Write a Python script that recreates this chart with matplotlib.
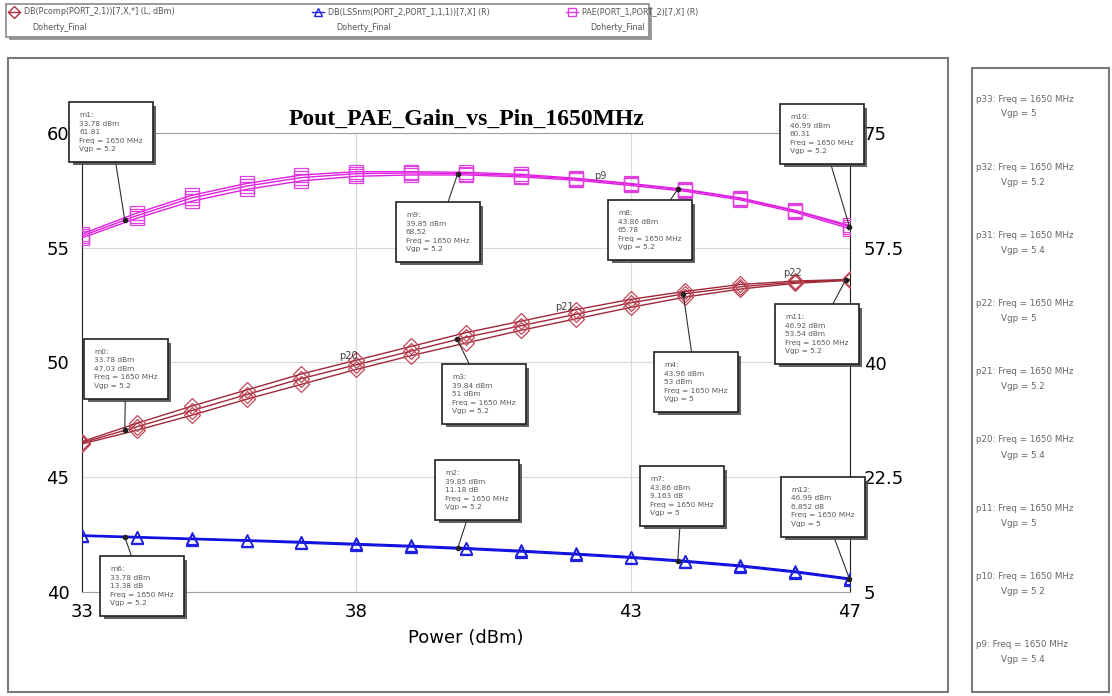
import numpy as np
import matplotlib
matplotlib.use("Agg")
import matplotlib.pyplot as plt
import matplotlib.patheffects as pe
from matplotlib.patches import Rectangle

# Pin (dBm)
pin = [33, 34, 35, 36, 37, 38, 39, 40, 41, 42, 43, 44, 45, 46, 47]

# Pout (dBm, left axis) for Vgp = 5, 5.2, 5.4
pout_5 = [46.45, 47.05, 47.7, 48.4, 49.05, 49.7, 50.3, 50.85, 51.4, 51.9, 52.4, 52.85, 53.2, 53.45, 53.58]
pout_52 = [46.5, 47.2, 47.9, 48.6, 49.3, 49.9, 50.5, 51.1, 51.6, 52.1, 52.6, 53.0, 53.3, 53.5, 53.6]
pout_54 = [46.55, 47.35, 48.1, 48.8, 49.5, 50.1, 50.7, 51.3, 51.8, 52.3, 52.75, 53.1, 53.4, 53.55, 53.62]

# PAE (%, right axis)
pae_5 = [59.0, 62.0, 64.6, 66.4, 67.7, 68.4, 68.6, 68.6, 68.3, 67.8, 67.0, 66.1, 64.8, 62.9, 60.4]
pae_52 = [59.3, 62.4, 65.1, 66.9, 68.2, 68.8, 68.9, 68.8, 68.5, 68.0, 67.2, 66.3, 65.0, 63.1, 60.7]
pae_54 = [59.6, 62.8, 65.5, 67.3, 68.6, 69.1, 69.1, 69.0, 68.7, 68.1, 67.3, 66.4, 65.1, 63.2, 60.9]

# Gain (dB, right axis)
gain_5 = [13.5, 13.25, 13.0, 12.75, 12.45, 12.15, 11.85, 11.5, 11.1, 10.65, 10.15, 9.55, 8.85, 7.95, 6.85]
gain_52 = [13.6, 13.35, 13.1, 12.85, 12.6, 12.3, 12.0, 11.65, 11.25, 10.8, 10.3, 9.7, 9.0, 8.1, 7.0]
gain_54 = [13.7, 13.45, 13.2, 12.95, 12.7, 12.4, 12.1, 11.75, 11.35, 10.9, 10.4, 9.8, 9.1, 8.2, 7.1]

left_ticks = [40, 45, 50, 55, 60]
right_ticks = [5, 22.5, 40, 57.5, 75]
right_labels = ["5", "22.5", "40", "57.5", "75"]
x_ticks = [33, 38, 43, 47]

legend_texts = ["DB(Pcomp(PORT_2,1))[7,X,*] (L, dBm)",
                "DB(LSSnm(PORT_2,PORT_1,1,1))[7,X] (R)",
                "PAE(PORT_1,PORT_2)[7,X] (R)"]
panel_names = ["p33", "p32", "p31", "p22", "p21", "p20", "p11", "p10", "p9"]
panel_vgp = ["5", "5.2", "5.4", "5", "5.2", "5.4", "5", "5.2", "5.4"]

# markers: name, x, readout value, Vgp, box top-left (pixels)
pae_marks = [("m1", 33.78, "61.81", "5.2", (70, 103)),
             ("m9", 39.85, "68.52", "5.2", (397, 203)),
             ("m8", 43.86, "65.78", "5.2", (609, 201)),
             ("m10", 46.99, "60.31", "5.2", (781, 105))]
pout_marks = [("m0", 33.78, "47.03 dBm", "5.2", (85, 340)),
              ("m3", 39.84, "51 dBm", "5.2", (443, 365)),
              ("m4", 43.96, "53 dBm", "5", (655, 353)),
              ("m11", 46.92, "53.54 dBm", "5.2", (776, 305))]
gain_marks = [("m6", 33.78, "13.38 dB", "5.2", (101, 557)),
              ("m2", 39.85, "11.18 dB", "5.2", (436, 461)),
              ("m7", 43.86, "9.163 dB", "5", (641, 467)),
              ("m12", 46.99, "6.852 dB", "5", (782, 478))]

W, H = 1112, 696
fig = plt.figure(figsize=(W / 100, H / 100), dpi=100)
fig.patch.set_facecolor("white")

# overlay in pixel coordinates for frames / legend / side panel
ov = fig.add_axes([0, 0, 1, 1])
ov.set_xlim(0, W)
ov.set_ylim(H, 0)
ov.axis("off")

# legend box with shadow
ov.add_patch(Rectangle((9, 7), 643, 33, fc="#9a9a9a", ec="none"))
ov.add_patch(Rectangle((6, 4), 643, 33, fc="white", ec="#8a8a8a", lw=1.2))
ov.add_patch(Rectangle((8, 58), 940, 634, fill=False, ec="#7a7a7a", lw=1.5))
ov.add_patch(Rectangle((972, 68), 137, 624, fill=False, ec="#7a7a7a", lw=1.5))

cols = ["#b03040", "#2020e0", "#e040e0"]
mks = ["D", "^", "s"]
for i, (lx, txt) in enumerate(zip([8, 312, 566], legend_texts)):
    ov.plot([lx, lx + 12], [12, 12], color=cols[i], lw=1)
    ov.plot(lx + 6, 12, marker=mks[i], ms=6, mfc="none", mec=cols[i], mew=1)
    ov.text(lx + 16, 12, txt, fontsize=5.8, color="#555555", va="center", ha="left")
    ov.text(lx + 24, 27, "Doherty_Final", fontsize=5.8, color="#555555", va="center", ha="left")

for i, (nm, vg) in enumerate(zip(panel_names, panel_vgp)):
    yy = 99 + i * 68.2
    ov.text(976, yy, nm + ": Freq = 1650 MHz", fontsize=6.3, color="#666666", va="center")
    ov.text(1001, yy + 15, "Vgp = " + vg, fontsize=6.3, color="#666666", va="center")

# main axes
x0, x1, yb, yt = 82, 850, 592, 133
ax = fig.add_axes([x0 / W, 1 - yb / H, (x1 - x0) / W, (yb - yt) / H])
ax.set_xlim(33, 47)
ax.set_ylim(40, 60)
ax.set_xticks(x_ticks)
ax.set_yticks(left_ticks)
ax.tick_params(length=0, labelsize=13, pad=9)
ax.tick_params(axis="x", pad=8)
for s in ["left", "right"]:
    ax.spines[s].set_color("#202020")
for s in ["top", "bottom"]:
    ax.spines[s].set_color("#a0a0a0")
ax.grid(True, color="#d8d8d8", lw=0.8)
ax.set_xlabel("Power (dBm)", fontsize=13, labelpad=6)
ax.set_title("Pout_PAE_Gain_vs_Pin_1650MHz", fontsize=17, fontweight="bold",
             family="Liberation Serif", pad=6)

for ser in [pout_5, pout_52, pout_54]:
    ax.plot(pin, ser, color="#a02838", lw=1.0, marker="D", ms=8, mfc="none",
            mec="#c04858", mew=0.9, zorder=3)

ax2 = ax.twinx()
ax2.set_ylim(5, 75)
ax2.set_yticks(right_ticks)
ax2.set_yticklabels(right_labels)
ax2.tick_params(length=0, labelsize=13, pad=10)
for s in ax2.spines.values():
    s.set_visible(False)

for ser in [pae_5, pae_52, pae_54]:
    ax2.plot(pin, ser, color="#e020e0", lw=1.0, marker="s", ms=10, mfc="none",
             mec="#e040e0", mew=0.9, zorder=3)
for ser in [gain_5, gain_52, gain_54]:
    ax2.plot(pin, ser, color="#1010e0", lw=1.0, marker="^", ms=9, mfc="none",
             mec="#2020e0", mew=0.9, zorder=3)


def marker_box(trans, series, mk):
    name, x, val, vg, (bx, by) = mk
    y = np.interp(x, pin, series)
    ax2.plot(x, y, "o", ms=3, color="#202020", transform=trans, zorder=6, clip_on=False)
    txt = f"{name}:\n{x:.2f} dBm\n{val}\nFreq = 1650 MHz\nVgp = {vg}"
    t = ax2.annotate(txt, xy=(x, y), xycoords=trans, xytext=(bx + 9, H - by - 9),
                     textcoords="figure pixels", ha="left", va="top", fontsize=5.3,
                     color="#5a5a5a", linespacing=1.5, annotation_clip=False, zorder=7,
                     bbox=dict(boxstyle="square,pad=1.35", fc="white", ec="#202020", lw=1.2),
                     arrowprops=dict(arrowstyle="-", color="#303030", lw=0.8,
                                     shrinkA=0, shrinkB=0))
    t.get_bbox_patch().set_path_effects(
        [pe.SimplePatchShadow(offset=(2.5, -2.5), shadow_rgbFace="#505050", alpha=0.9), pe.Normal()])


for mk in pae_marks:
    marker_box(ax2.transData, pae_52, mk)
for mk in pout_marks:
    marker_box(ax.transData, pout_52, mk)
for mk in gain_marks:
    marker_box(ax2.transData, gain_52, mk)

# curve labels
ax2.text(42.45, 68.4, "p9", fontsize=7, color="#404040", ha="center", va="center", zorder=5)
ax.text(37.85, 50.3, "p20", fontsize=7, color="#404040", ha="center", va="center", zorder=5)
ax.text(41.8, 52.4, "p21", fontsize=7, color="#404040", ha="center", va="center", zorder=5)
ax.text(45.95, 53.9, "p22", fontsize=7, color="#404040", ha="center", va="center", zorder=5)

fig.savefig("out.png", dpi=100)
